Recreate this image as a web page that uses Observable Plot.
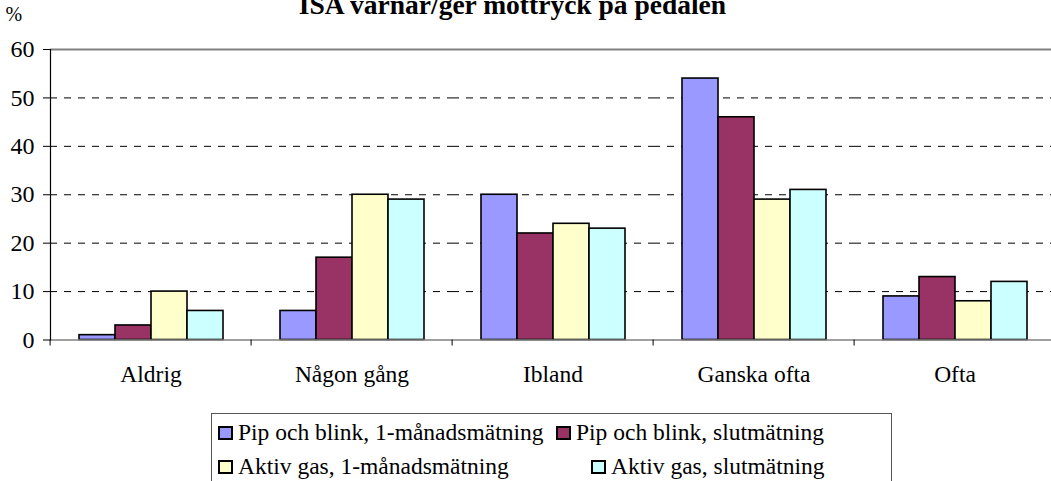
<!DOCTYPE html>
<html><head><meta charset="utf-8">
<script src="https://cdn.jsdelivr.net/npm/d3@7"></script>
<script src="https://cdn.jsdelivr.net/npm/@observablehq/plot@0.6"></script>
<style>
body{margin:0;background:#fff;}
#wrap{position:relative;width:1051px;height:481px;overflow:hidden;font-family:"Liberation Serif","Times New Roman",serif;color:#000;}
#title{position:absolute;left:0;width:1025px;top:-9px;text-align:center;font-weight:bold;font-size:27.5px;line-height:1;white-space:nowrap;}
#chart{position:absolute;left:0;top:0;}
#legend{position:absolute;left:211px;top:413px;width:681px;height:100px;border:1px solid #555;box-sizing:border-box;}
.item{position:absolute;display:flex;align-items:center;font-size:23.5px;line-height:1;white-space:nowrap;}
.sw{display:inline-block;width:11px;height:10px;border:2px solid #000;margin-right:5px;}
</style></head>
<body>
<div id="wrap">
  <div id="title">ISA varnar/ger mottryck på pedalen</div>
  <div id="chart"></div>
  <div id="legend"></div>
</div>
<script>
const categories = ["Aldrig", "Någon gång", "Ibland", "Ganska ofta", "Ofta"];
const series = ["Pip och blink, 1-månadsmätning", "Pip och blink, slutmätning", "Aktiv gas, 1-månadsmätning", "Aktiv gas, slutmätning"];
const pipBlink1 = [1, 6, 30, 54, 9];
const pipBlinkSlut = [3, 17, 22, 46, 13];
const aktivGas1 = [10, 30, 24, 29, 8];
const aktivGasSlut = [6, 29, 23, 31, 12];
const colors = ["#9999FF", "#993366", "#FFFFCC", "#CCFFFF"];
const yTicks = [0, 10, 20, 30, 40, 50, 60];
const gridTicks = [10, 20, 30, 40, 50];

const values = [pipBlink1, pipBlinkSlut, aktivGas1, aktivGasSlut];
const data = categories.flatMap((c, i) => series.map((s, j) => ({cat: c, series: s, value: values[j][i]})));

const chart = Plot.plot({
  width: 1051, height: 400,
  marginLeft: 48, marginRight: -6, marginTop: 49, marginBottom: 60.5,
  style: {fontFamily: "'Liberation Serif', 'Times New Roman', serif", fontSize: "22px", color: "#000", background: "transparent", overflow: "visible"},
  fx: {domain: categories, padding: 0, label: null, axis: null},
  x: {domain: series, paddingInner: 0, paddingOuter: 0.757, axis: null},
  y: {domain: [0, 60], axis: null},
  color: {domain: series, range: colors},
  marks: [
    Plot.ruleY(gridTicks, {stroke: "#000", strokeDasharray: "7,7", strokeWidth: 1}),
    Plot.ruleY([60], {stroke: "#808080", strokeWidth: 2}),
    Plot.barY(data, {fx: "cat", x: "series", y: "value", fill: "series", stroke: "#000", strokeWidth: 1.6}),
    Plot.ruleY([0], {stroke: "#808080", strokeWidth: 1.5}),
    Plot.frame({anchor: "left", stroke: "#000", strokeWidth: 1.2, facet: "super"}),
    Plot.axisY({ticks: yTicks, tickSize: 7, tickPadding: 9, fontSize: 24, label: null}),
    Plot.axisFx({anchor: "bottom", tickSize: 0, tickPadding: 25, fontSize: 23.5, label: null}),
    Plot.axisFx({anchor: "bottom", tickSize: 6, tickFormat: () => "", dx: -100.9, label: null, stroke: "#000"}),
    Plot.text(["%"], {frameAnchor: "top-left", dx: -45, dy: -43, fontSize: 20, facet: "super"})
  ]
});
document.getElementById("chart").appendChild(chart);

const legend = document.getElementById("legend");
const legendPos = [[6, 7], [344, 7], [6, 41], [379, 41]];
series.forEach((s, i) => {
  const it = document.createElement("div");
  it.className = "item";
  it.style.left = legendPos[i][0] + "px";
  it.style.top = legendPos[i][1] + "px";
  const sw = document.createElement("span");
  sw.className = "sw";
  sw.style.background = colors[i];
  it.appendChild(sw);
  it.appendChild(document.createTextNode(s));
  legend.appendChild(it);
});
</script>
</body></html>
